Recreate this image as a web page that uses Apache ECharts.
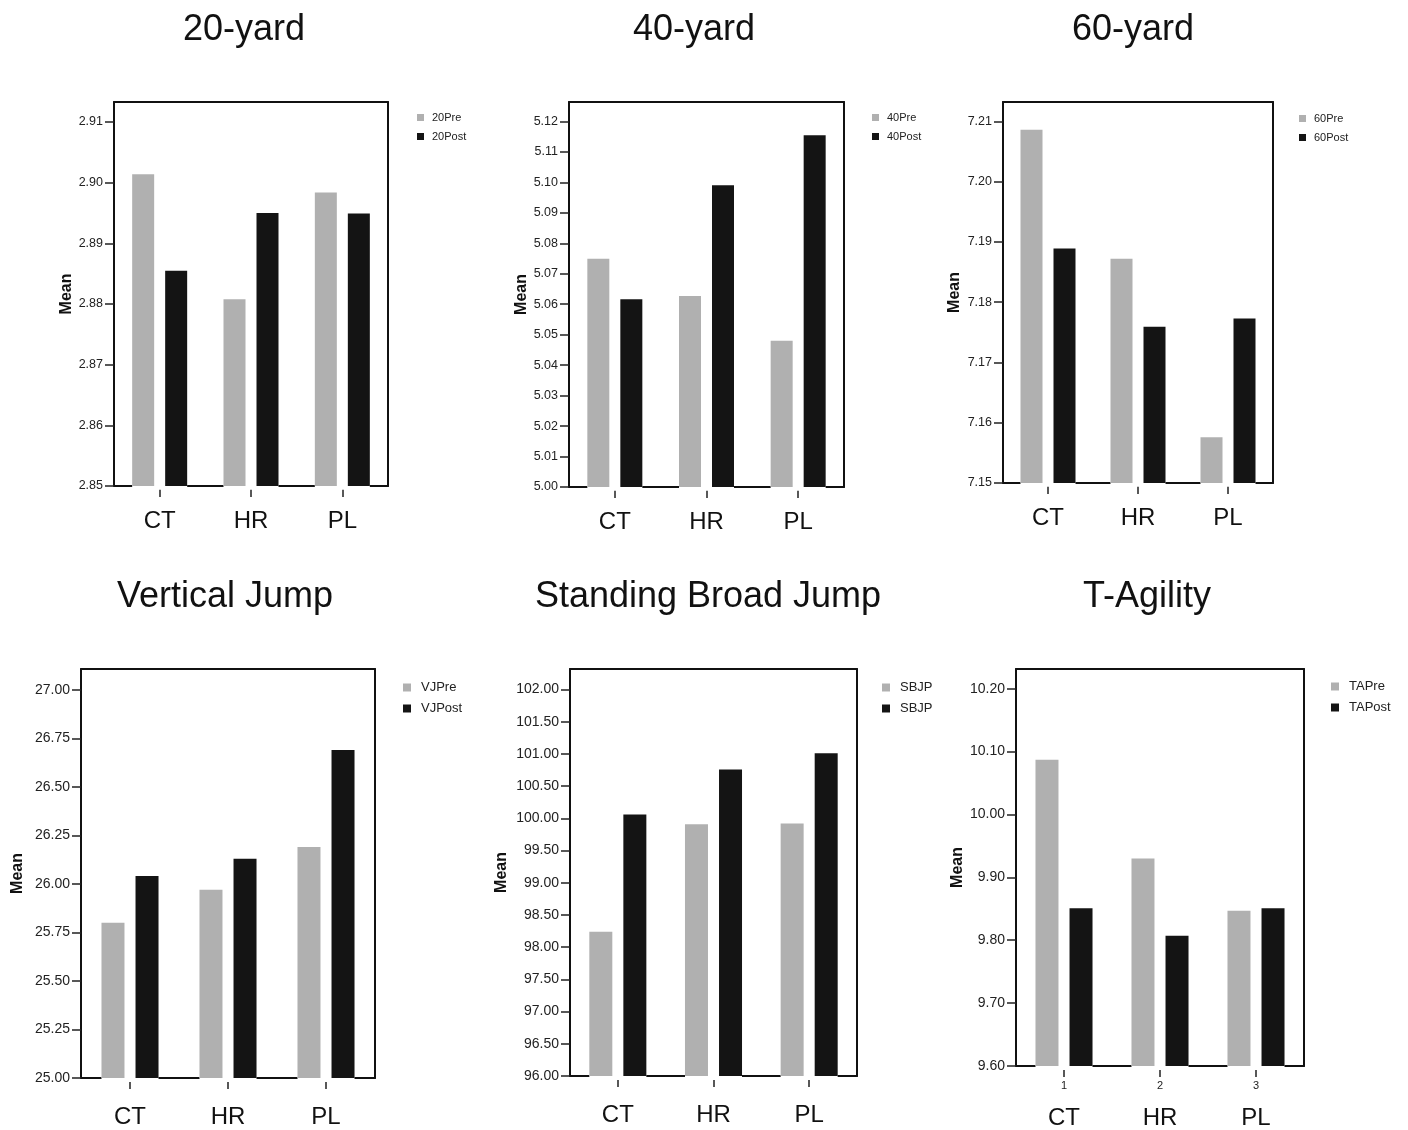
<!DOCTYPE html>
<html lang="en">
<head>
<meta charset="UTF-8">
<title>Pre / Post means</title>
<style>
  html, body { margin: 0; padding: 0; background: #fff; }
  #chart { width: 1408px; height: 1130px; }
</style>
</head>
<body>
<div id="chart"></div>
<script src="https://cdn.jsdelivr.net/npm/echarts@6/dist/echarts.min.js"></script>
<script>
// groups on every x axis
var groups = ['CT', 'HR', 'PL'];
var taNumbers = ['1', '2', '3'];

// means
var pre20 = [2.9014, 2.8808, 2.8984];
var post20 = [2.8855, 2.8950, 2.8949];
var pre40 = [5.0749, 5.0627, 5.0480];
var post40 = [5.0616, 5.0991, 5.1155];
var pre60 = [7.2086, 7.1872, 7.1576];
var post60 = [7.1889, 7.1759, 7.1773];
var vjPre = [25.80, 25.97, 26.19];
var vjPost = [26.04, 26.13, 26.69];
var sbjPre = [98.24, 99.91, 99.92];
var sbjPost = [100.06, 100.76, 101.01];
var taPre = [10.087, 9.930, 9.847];
var taPost = [9.851, 9.807, 9.851];

// y tick labels
var ticks20 = [2.85, 2.86, 2.87, 2.88, 2.89, 2.90, 2.91];
var ticks40 = [5.00, 5.01, 5.02, 5.03, 5.04, 5.05, 5.06, 5.07, 5.08, 5.09, 5.10, 5.11, 5.12];
var ticks60 = [7.15, 7.16, 7.17, 7.18, 7.19, 7.20, 7.21];
var ticksVJ = [25.00, 25.25, 25.50, 25.75, 26.00, 26.25, 26.50, 26.75, 27.00];
var ticksSBJ = [96.00, 96.50, 97.00, 97.50, 98.00, 98.50, 99.00, 99.50, 100.00, 100.50, 101.00, 101.50, 102.00];
var ticksTA = [9.60, 9.70, 9.80, 9.90, 10.00, 10.10, 10.20];

// white strip (up and down from the baseline) that hides the axis under each bar pair
var maskUp = [1, 1, 1];
var maskDown = [-1, -1, -1];

var GRAY = '#b0b0b0';
var BLACK = '#141414';
var FONT = 'Liberation Sans, Arial, Helvetica, sans-serif';

var panels = [
  { title: '20-yard', tx: 244, ty: 12, names: ['20Pre', '20Post'], pre: pre20, post: post20, ticks: ticks20,
    grid: [114, 102, 274, 384], yMax: 2.9133, nameGap: 38, lx: 417, ly: 111, big: false },
  { title: '40-yard', tx: 694, ty: 12, names: ['40Pre', '40Post'], pre: pre40, post: post40, ticks: ticks40,
    grid: [569, 102, 275, 385], yMax: 5.1264, nameGap: 37, lx: 872, ly: 111, big: false },
  { title: '60-yard', tx: 1133, ty: 12, names: ['60Pre', '60Post'], pre: pre60, post: post60, ticks: ticks60,
    grid: [1003, 102, 270, 381], yMax: 7.2132, nameGap: 40, lx: 1299, ly: 112, big: false },
  { title: 'Vertical Jump', tx: 225, ty: 579, names: ['VJPre', 'VJPost'], pre: vjPre, post: vjPost, ticks: ticksVJ,
    grid: [81, 669, 294, 409], yMax: 27.107, nameGap: 55, lx: 403, ly: 680, big: true },
  { title: 'Standing Broad Jump', tx: 708, ty: 579, names: ['SBJPre', 'SBJPost'], pre: sbjPre, post: sbjPost, ticks: ticksSBJ,
    grid: [570, 669, 287, 407], yMax: 102.32, nameGap: 60, lx: 882, ly: 680, big: true, cut: 34 },
  { title: 'T-Agility', tx: 1147, ty: 579, names: ['TAPre', 'TAPost'], pre: taPre, post: taPost, ticks: ticksTA,
    grid: [1016, 669, 288, 397], yMax: 10.2313, nameGap: 50, lx: 1331, ly: 679, big: true, numbered: true }
];

var option = {
  animation: false,
  backgroundColor: '#fff',
  textStyle: { fontFamily: FONT },
  title: [], grid: [], xAxis: [], yAxis: [], legend: [], series: []
};

var blackLine = { show: true, onZero: false, lineStyle: { color: '#111', width: 2 } };

panels.forEach(function (p, i) {
  var barW = p.big ? 23 : 22;
  var gapPx = 11;
  var barGap = (gapPx / barW * 100).toFixed(0) + '%';

  option.title.push({
    text: p.title, left: p.tx, top: p.ty, textAlign: 'center', padding: 0,
    textStyle: { fontSize: 36, fontWeight: 'normal', color: '#111', fontFamily: FONT }
  });
  option.grid.push({ left: p.grid[0], top: p.grid[1], width: p.grid[2], height: p.grid[3] });

  var labelCfg = {
    interval: 0, color: '#111', fontSize: 24, margin: p.big ? 27 : 23, lineHeight: 24
  };
  if (p.numbered) {
    labelCfg = {
      interval: 0, color: '#111', margin: 13,
      formatter: function (v, idx) { return '{n|' + taNumbers[idx] + '}\n{c|' + v + '}'; },
      rich: {
        n: { fontSize: 11, lineHeight: 14, color: '#222' },
        c: { fontSize: 24, lineHeight: 50, color: '#111' }
      }
    };
  }
  option.xAxis.push({
    type: 'category', gridIndex: i, position: 'bottom', data: groups,
    axisLine: blackLine,
    axisTick: { show: true, alignWithLabel: true, length: 11, lineStyle: { color: '#222', width: 1.5 } },
    axisLabel: labelCfg
  });
  option.xAxis.push({
    type: 'category', gridIndex: i, position: 'top', data: groups,
    axisLine: blackLine, axisTick: { show: false }, axisLabel: { show: false }
  });
  option.yAxis.push({
    type: 'value', gridIndex: i, position: 'left', min: p.ticks[0], max: p.yMax,
    name: 'Mean', nameLocation: 'middle', nameGap: p.nameGap,
    nameTextStyle: { fontSize: 16, fontWeight: 'bold', color: '#111', fontFamily: FONT },
    axisLine: blackLine,
    axisTick: { show: true, length: 9, customValues: p.ticks, lineStyle: { color: '#222', width: 1.5 } },
    axisLabel: {
      customValues: p.ticks, margin: 11, fontSize: p.big ? 14 : 12.5, color: '#222',
      formatter: function (v) { return v.toFixed(2); }
    },
    splitLine: { show: false }
  });
  option.yAxis.push({
    type: 'value', gridIndex: i, position: 'right', min: 0, max: 100,
    axisLine: blackLine, axisTick: { show: false }, axisLabel: { show: false }, splitLine: { show: false }
  });

  var textStyle = { fontSize: p.big ? 13 : 11, color: '#222', lineHeight: p.big ? 15 : 13,
    padding: [0, 0, 0, p.big ? 5 : 3] };
  if (p.cut) {
    textStyle.width = p.cut;
    textStyle.overflow = 'truncate';
    textStyle.ellipsis = '';
  }
  option.legend.push({
    data: p.names, orient: 'vertical', left: p.lx, top: p.ly, padding: 0,
    icon: 'rect', itemWidth: p.big ? 8 : 7, itemHeight: p.big ? 8 : 7, itemGap: 6,
    selectedMode: false, textStyle: textStyle
  });

  [maskUp, maskDown].forEach(function (m, k) {
    option.series.push({
      type: 'bar', name: 'mask' + i + '_' + k, xAxisIndex: i * 2 + 1, yAxisIndex: i * 2 + 1,
      stack: 'mask' + i, data: m, barWidth: barW * 2 + gapPx, silent: true, clip: false, z: 3,
      itemStyle: { color: '#fff' }
    });
  });
  option.series.push({
    type: 'bar', name: p.names[0], xAxisIndex: i * 2, yAxisIndex: i * 2, z: 4,
    data: p.pre, barWidth: barW, barGap: barGap, itemStyle: { color: GRAY }
  });
  option.series.push({
    type: 'bar', name: p.names[1], xAxisIndex: i * 2, yAxisIndex: i * 2, z: 4,
    data: p.post, barWidth: barW, barGap: barGap, itemStyle: { color: BLACK }
  });
});

var chart = echarts.init(document.getElementById('chart'));
chart.setOption(option);
</script>
</body>
</html>
